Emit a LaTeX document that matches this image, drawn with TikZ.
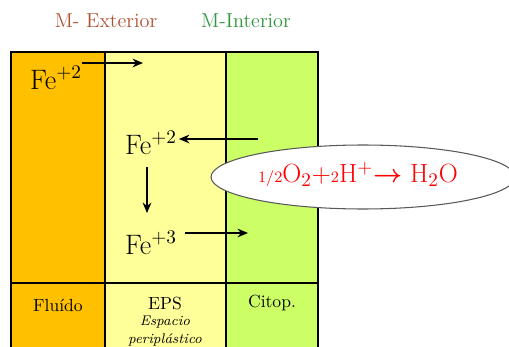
\documentclass[tikz,border=0pt]{standalone}
\usepackage{amsmath}
\usepackage{tikz}
\usetikzlibrary{arrows.meta,calc,positioning,shapes.geometric}

\definecolor{fluido}{RGB}{255,192,0}
\definecolor{eps}{RGB}{255,255,153}
\definecolor{citop}{RGB}{204,255,102}
\definecolor{mext}{RGB}{176,80,48}
\definecolor{mint}{RGB}{46,150,60}

\begin{document}
\begin{tikzpicture}[>={Stealth[length=6pt,width=5pt]}, x=0.02cm, y=-0.02cm]
  % frame of the picture (1 unit = 1 pixel, y downwards)
  \useasboundingbox (0,0) rectangle (509,347);
  \clip (0,0) rectangle (509,347);
  \tikzset{
    ion/.style={font=\fontsize{16}{18}\selectfont, inner sep=1pt},
    cell/.style={font=\fontsize{10}{12}\selectfont, inner sep=1pt},
    wall/.style={line width=1.2pt},
    flux/.style={->, line width=0.8pt}
  }
  % columns: fluid (left), periplasm (middle), cytoplasm (right)
  \def\xA{11}
  \def\xB{105}
  \def\xC{226}
  \def\xD{318}
  \def\yT{52}
  \def\yR{283}
  \def\yB{352}
  \fill[fluido] (\xA,\yT) rectangle (\xB,\yB);
  \fill[eps] (\xB,\yT) rectangle (\xC,\yB);
  \fill[citop] (\xC,\yT) rectangle (\xD,\yB);
  \draw[wall] (\xA,\yT) rectangle (\xD,\yB);
  \draw[wall] (\xB,\yT) -- (\xB,\yB);
  \draw[wall] (\xC,\yT) -- (\xC,\yB);
  \draw[wall] (\xA,\yR) -- (\xD,\yR);
  % membrane titles
  \node[text=mext, font=\fontsize{11.5}{13}\selectfont] (mext) at (106,21) {M- Exterior};
  \node[text=mint, font=\fontsize{11.5}{13}\selectfont] (mint) at (246,21) {M-Interior};
  % iron species
  \node[ion] (fe2a) at (56,78) {Fe$^{+2}$};
  \node[ion] (fe2b) at (151,143) {Fe$^{+2}$};
  \node[ion] (fe3) at (151,243) {Fe$^{+3}$};
  % oxygen reduction
  \node[ellipse, draw=gray!70!black, fill=white, line width=0.6pt, inner sep=0pt,
        minimum width=6.08cm, minimum height=1.28cm] (red) at (363,177) {};
  \node[text=red, font=\fontsize{15}{17}\selectfont, inner sep=1pt] (eq) at (358,174)
        {{\small 1/2}O$_2$+{\small 2}H$^{+}$$\boldsymbol{\rightarrow}$ H$_2$O};
  % fluxes
  \coordinate (in1) at (143,63);
  \coordinate (out2) at (258,139);
  \coordinate (out3) at (248,233);
  \draw[flux] (fe2a.north east |- in1) ++(-2,0) coordinate (s1) (s1) -- (in1);
  \draw[flux] (out2) -- (fe2b.east |- out2);
  \draw[flux] ($(fe2b.south)+(-4,10)$) coordinate (d1) -- ($(fe3.north)+(-4,-16)$) coordinate (d2);
  \draw[flux] (fe3.north east |- out3) ++(6,0) coordinate (s3) (s3) -- (out3);
  % compartment names
  \node[cell] (flu) at (58,305) {Flu\'ido};
  \node[cell] (epsn) at (165,303) {EPS};
  \node[font=\fontsize{8}{10}\selectfont\itshape, inner sep=1pt, align=center] (espa) at (165,331) {Espacio\\peripl\'astico};
  \node[cell] (cit) at (272,303) {Citop.};
\end{tikzpicture}
\end{document}
